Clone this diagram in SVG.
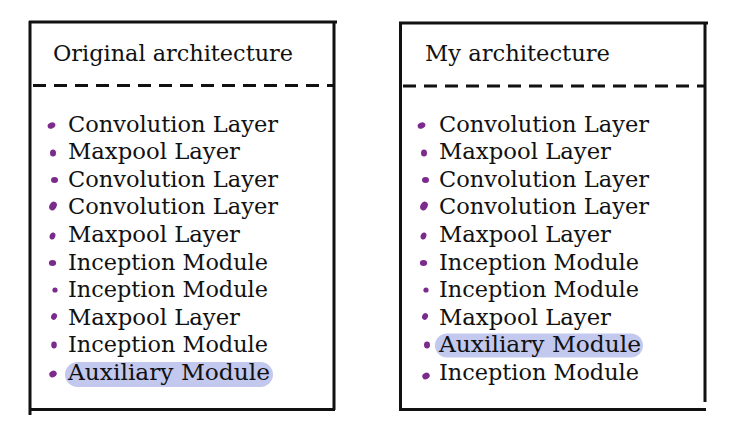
<svg xmlns="http://www.w3.org/2000/svg" width="733" height="429" viewBox="0 0 733 429">
<style>
.frame{stroke:#111;stroke-width:3;fill:none;stroke-linecap:butt}
.dash{stroke:#111;stroke-width:3;fill:none;stroke-dasharray:13 8}
.title{font-family:"DejaVu Serif","Liberation Serif",serif;font-size:21.5px;fill:#111}
.item{font-family:"DejaVu Serif","Liberation Serif",serif;font-size:22px;fill:#111}
.hl{fill:#c3c8ee}
.b{fill:#7b2b8c}
</style>
<rect width="733" height="429" fill="#fff"/>
<g id="original">
  <line class="frame" x1="29" y1="22" x2="337" y2="22"/>
  <line class="frame" x1="30" y1="21" x2="30" y2="415"/>
  <line class="frame" x1="334" y1="21" x2="334" y2="410"/>
  <line class="frame" x1="30" y1="409.5" x2="335" y2="409.5"/>
  <line class="dash" x1="33" y1="85.5" x2="334" y2="85.5"/>
  <text class="title" x="53" y="61" textLength="240" lengthAdjust="spacingAndGlyphs">Original architecture</text>
  <rect class="hl" x="65" y="362" width="208" height="25" rx="12.5"/>
  <g class="b">
    <ellipse cx="51.5" cy="125.5" rx="4" ry="3" transform="rotate(-25 51.5 125.5)"/>
    <ellipse cx="53" cy="153" rx="3" ry="3.5"/>
    <ellipse cx="54.5" cy="180" rx="3.5" ry="3"/>
    <ellipse cx="53" cy="206" rx="3.5" ry="4.5" transform="rotate(30 53 206)"/>
    <ellipse cx="52.5" cy="236" rx="2.8" ry="3.6" transform="rotate(20 52.5 236)"/>
    <ellipse cx="52.5" cy="263" rx="3.6" ry="3"/>
    <ellipse cx="55" cy="290" rx="2.6" ry="2.6"/>
    <ellipse cx="54" cy="316.5" rx="2.8" ry="3.4" transform="rotate(30 54 316.5)"/>
    <ellipse cx="54" cy="345" rx="2.8" ry="3.4"/>
    <ellipse cx="53" cy="374" rx="3.8" ry="3.2" transform="rotate(-30 53 374)"/>
  </g>
  <text class="item" x="68" y="131.5" textLength="210" lengthAdjust="spacingAndGlyphs">Convolution Layer</text>
  <text class="item" x="68" y="159" textLength="172" lengthAdjust="spacingAndGlyphs">Maxpool Layer</text>
  <text class="item" x="68" y="186.5" textLength="210" lengthAdjust="spacingAndGlyphs">Convolution Layer</text>
  <text class="item" x="68" y="214" textLength="210" lengthAdjust="spacingAndGlyphs">Convolution Layer</text>
  <text class="item" x="68" y="242" textLength="172" lengthAdjust="spacingAndGlyphs">Maxpool Layer</text>
  <text class="item" x="68" y="269.5" textLength="200" lengthAdjust="spacingAndGlyphs">Inception Module</text>
  <text class="item" x="68" y="297" textLength="200" lengthAdjust="spacingAndGlyphs">Inception Module</text>
  <text class="item" x="68" y="324.5" textLength="172" lengthAdjust="spacingAndGlyphs">Maxpool Layer</text>
  <text class="item" x="68" y="352" textLength="200" lengthAdjust="spacingAndGlyphs">Inception Module</text>
  <text class="item" x="68" y="380" textLength="202" lengthAdjust="spacingAndGlyphs">Auxiliary Module</text>
</g>
<g id="mine">
  <line class="frame" x1="399" y1="23" x2="708" y2="23"/>
  <line class="frame" x1="400.5" y1="22" x2="400.5" y2="411"/>
  <line class="frame" x1="705" y1="22" x2="705" y2="402"/>
  <line class="frame" x1="400" y1="409.5" x2="706" y2="409.5"/>
  <line class="dash" x1="403" y1="86" x2="705" y2="86"/>
  <text class="title" x="425" y="61" textLength="185" lengthAdjust="spacingAndGlyphs">My architecture</text>
  <rect class="hl" x="435" y="333.5" width="208" height="24" rx="12"/>
  <g class="b">
    <ellipse cx="421.5" cy="125.5" rx="4" ry="3" transform="rotate(-25 421.5 125.5)"/>
    <ellipse cx="424" cy="153" rx="3" ry="3.5"/>
    <ellipse cx="425.5" cy="180" rx="3.5" ry="3"/>
    <ellipse cx="424" cy="206" rx="3.5" ry="4.5" transform="rotate(30 424 206)"/>
    <ellipse cx="423.5" cy="236" rx="2.8" ry="3.6" transform="rotate(20 423.5 236)"/>
    <ellipse cx="423.5" cy="263" rx="3.6" ry="3"/>
    <ellipse cx="426" cy="290" rx="2.6" ry="2.6"/>
    <ellipse cx="425" cy="316.5" rx="2.8" ry="3.4" transform="rotate(30 425 316.5)"/>
    <ellipse cx="427" cy="345" rx="3" ry="3.4"/>
    <ellipse cx="426" cy="376" rx="3.8" ry="3.2" transform="rotate(-30 426 376)"/>
  </g>
  <text class="item" x="439" y="131.5" textLength="210" lengthAdjust="spacingAndGlyphs">Convolution Layer</text>
  <text class="item" x="439" y="159" textLength="172" lengthAdjust="spacingAndGlyphs">Maxpool Layer</text>
  <text class="item" x="439" y="186.5" textLength="210" lengthAdjust="spacingAndGlyphs">Convolution Layer</text>
  <text class="item" x="439" y="214" textLength="210" lengthAdjust="spacingAndGlyphs">Convolution Layer</text>
  <text class="item" x="439" y="242" textLength="172" lengthAdjust="spacingAndGlyphs">Maxpool Layer</text>
  <text class="item" x="439" y="269.5" textLength="200" lengthAdjust="spacingAndGlyphs">Inception Module</text>
  <text class="item" x="439" y="297" textLength="200" lengthAdjust="spacingAndGlyphs">Inception Module</text>
  <text class="item" x="439" y="324.5" textLength="172" lengthAdjust="spacingAndGlyphs">Maxpool Layer</text>
  <text class="item" x="439" y="352" textLength="202" lengthAdjust="spacingAndGlyphs">Auxiliary Module</text>
  <text class="item" x="439" y="380" textLength="200" lengthAdjust="spacingAndGlyphs">Inception Module</text>
</g>
</svg>
